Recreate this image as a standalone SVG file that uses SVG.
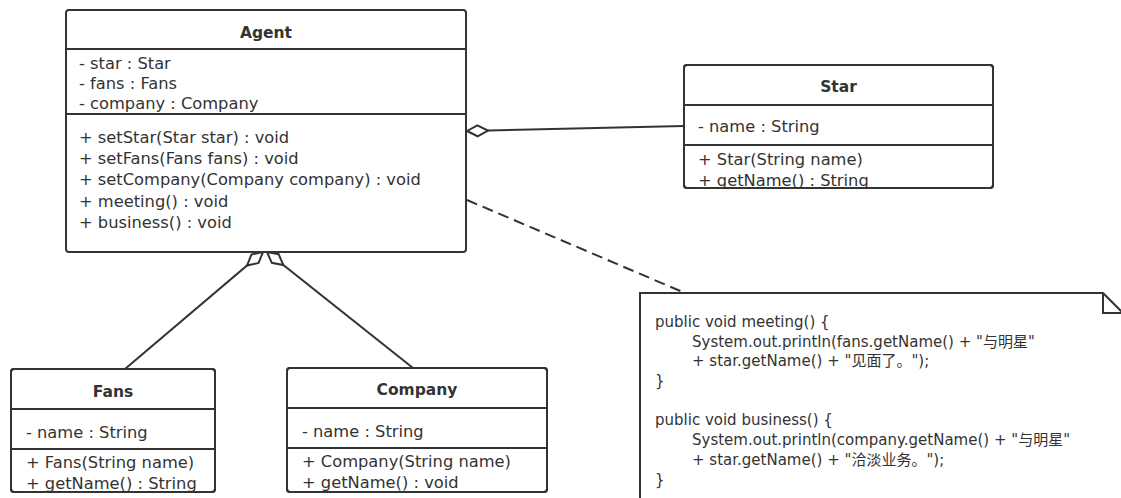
<svg xmlns="http://www.w3.org/2000/svg" width="1121" height="498" viewBox="0 0 1121 498">
<style>
.box{fill:#fff;stroke:#333;stroke-width:2}
.div{stroke:#333;stroke-width:2;fill:none}
.t{font-family:"DejaVu Sans","Noto Sans CJK SC",sans-serif;font-size:16.3px;fill:#333}
.h{font-family:"DejaVu Sans","Noto Sans CJK SC",sans-serif;font-size:15.5px;font-weight:bold;fill:#333;text-anchor:middle}
.n{font-family:"DejaVu Sans","Noto Sans CJK SC",sans-serif;font-size:15px;fill:#333}
.ln{stroke:#333;stroke-width:2;fill:none}
.dash{stroke-dasharray:11 6}
</style>
<defs>
<marker id="dia" viewBox="-2 -2 26 16" markerWidth="26" markerHeight="16" refX="0" refY="6" markerUnits="userSpaceOnUse" orient="auto">
<polygon points="0,6 10.5,0.5 21,6 10.5,11.5" fill="#fff" stroke="#333" stroke-width="2"/>
</marker>
<clipPath id="cStar"><rect x="684" y="65" width="309" height="123"/></clipPath>
<clipPath id="cFans"><rect x="11" y="369" width="204" height="123"/></clipPath>
<clipPath id="cComp"><rect x="287" y="368" width="260" height="124"/></clipPath>
</defs>
<g id="connectors">
<path class="ln" d="M467,131 L684,126" marker-start="url(#dia)"/>
<path class="ln" d="M263,252 L125,369" marker-start="url(#dia)"/>
<path class="ln" d="M267,252 L413,368" marker-start="url(#dia)"/>
<path class="ln dash" d="M467,200 L685,293"/>
</g>
<g id="agent">
<rect class="box" x="66" y="10" width="400" height="242" rx="3"/>
<text class="h" x="266" y="38">Agent</text>
<text class="t" x="79" y="69">- star : Star</text>
<text class="t" x="79" y="89">- fans : Fans</text>
<text class="t" x="79" y="109">- company : Company</text>
<line class="div" x1="66" y1="49" x2="466" y2="49"/>
<line class="div" x1="66" y1="114" x2="466" y2="114"/>
<text class="t" x="79" y="143">+ setStar(Star star) : void</text>
<text class="t" x="79" y="164">+ setFans(Fans fans) : void</text>
<text class="t" x="79" y="185">+ setCompany(Company company) : void</text>
<text class="t" x="79" y="206.5">+ meeting() : void</text>
<text class="t" x="79" y="228">+ business() : void</text>
</g>
<g id="star">
<rect class="box" x="684" y="65" width="309" height="123" rx="3"/>
<g clip-path="url(#cStar)">
<text class="h" x="838.5" y="92">Star</text>
<text class="t" x="698" y="132">- name : String</text>
<text class="t" x="698" y="165">+ Star(String name)</text>
<text class="t" x="698" y="186">+ getName() : String</text>
</g>
<line class="div" x1="684" y1="105" x2="993" y2="105"/>
<line class="div" x1="684" y1="145" x2="993" y2="145"/>
<rect x="684" y="65" width="309" height="123" rx="3" fill="none" stroke="#333" stroke-width="2"/>
</g>
<g id="fans">
<rect class="box" x="11" y="369" width="204" height="123" rx="3"/>
<g clip-path="url(#cFans)">
<text class="h" x="113" y="397">Fans</text>
<text class="t" x="26" y="437.5">- name : String</text>
<text class="t" x="26" y="468">+ Fans(String name)</text>
<text class="t" x="26" y="489">+ getName() : String</text>
</g>
<line class="div" x1="11" y1="409" x2="215" y2="409"/>
<line class="div" x1="11" y1="449" x2="215" y2="449"/>
<rect x="11" y="369" width="204" height="123" rx="3" fill="none" stroke="#333" stroke-width="2"/>
</g>
<g id="company">
<rect class="box" x="287" y="368" width="260" height="124" rx="3"/>
<g clip-path="url(#cComp)">
<text class="h" x="417" y="395">Company</text>
<text class="t" x="302" y="437">- name : String</text>
<text class="t" x="302" y="467">+ Company(String name)</text>
<text class="t" x="302" y="487.5">+ getName() : void</text>
</g>
<line class="div" x1="287" y1="408" x2="547" y2="408"/>
<line class="div" x1="287" y1="448" x2="547" y2="448"/>
<rect x="287" y="368" width="260" height="124" rx="3" fill="none" stroke="#333" stroke-width="2"/>
</g>
<g id="note">
<path class="box" d="M640,293 L1103,293 L1123,313 L1123,510 L640,510 Z"/>
<path class="div" d="M1103,293 L1103,313 L1123,313"/>
<text class="n" x="655" y="327">public void meeting() {</text>
<text class="n" x="692" y="346.5">System.out.println(fans.getName() + "与明星"</text>
<text class="n" x="692" y="366">+ star.getName() + "见面了。");</text>
<text class="n" x="655" y="385.5">}</text>
<text class="n" x="655" y="425">public void business() {</text>
<text class="n" x="692" y="445">System.out.println(company.getName() + "与明星"</text>
<text class="n" x="692" y="465">+ star.getName() + "洽淡业务。");</text>
<text class="n" x="655" y="484.5">}</text>
</g>
</svg>
